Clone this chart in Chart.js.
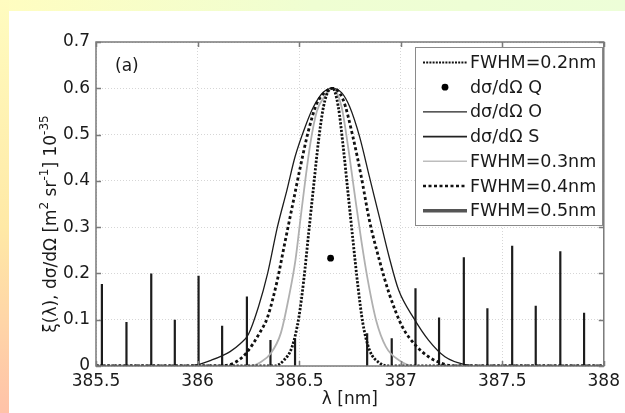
<!DOCTYPE html>
<html>
<head>
<meta charset="utf-8">
<script src="https://cdn.jsdelivr.net/npm/chart.js@4"></script>
<style>
  html, body { margin: 0; padding: 0; }
  body { width: 625px; height: 413px; position: relative; overflow: hidden; background: #fff; }
  #topStrip { position: absolute; left: 0; top: 0; width: 625px; height: 11px;
    background: linear-gradient(90deg, #fffdc0, #effed2 50%, #edfed8); }
  #leftStrip { position: absolute; left: 0; top: 0; width: 9px; height: 413px;
    background: linear-gradient(180deg, #fffcc0, #ffe9a6 55%, #ffc2a8); }
  #chart { position: absolute; left: 0; top: 0; }
</style>
</head>
<body>
<div id="topStrip"></div>
<div id="leftStrip"></div>
<canvas id="chart" width="625" height="413"></canvas>
<script>
// tick labels
const xTicks = [385.5, 386, 386.5, 387, 387.5, 388];
const yTicks = [0, 0.1, 0.2, 0.3, 0.4, 0.5, 0.6, 0.7];

// convolved spectra
const fwhm02Wl  = [385.5, 386.38, 386.426, 386.466, 386.499, 386.523, 386.547, 386.571, 386.596, 386.62, 386.65, 386.665, 386.693, 386.717, 386.741, 386.765, 386.79, 386.814, 386.846, 386.895, 386.94, 388];
const fwhm02Val = [0, 0, 0.013, 0.042, 0.106, 0.186, 0.287, 0.387, 0.488, 0.56, 0.598, 0.6, 0.56, 0.474, 0.373, 0.272, 0.171, 0.092, 0.035, 0.007, 0, 0];

const fwhm03Wl  = [385.5, 386.26, 386.31, 386.36, 386.41, 386.45, 386.482, 386.506, 386.53, 386.555, 386.587, 386.63, 386.665, 386.709, 386.741, 386.773, 386.806, 386.838, 386.879, 386.927, 386.99, 387.07, 388];
const fwhm03Val = [0, 0, 0.008, 0.027, 0.071, 0.15, 0.229, 0.315, 0.40, 0.48, 0.55, 0.585, 0.6, 0.56, 0.474, 0.373, 0.272, 0.186, 0.099, 0.042, 0.013, 0, 0];

const fwhm04Wl  = [385.5, 386.1, 386.16, 386.2, 386.24, 386.305, 386.345, 386.393, 386.426, 386.466, 386.506, 386.547, 386.587, 386.63, 386.665, 386.717, 386.765, 386.806, 386.846, 386.895, 386.943, 387.008, 387.073, 387.137, 387.2, 387.26, 388];
const fwhm04Val = [0, 0, 0.003, 0.012, 0.028, 0.071, 0.106, 0.186, 0.258, 0.344, 0.43, 0.51, 0.567, 0.592, 0.6, 0.575, 0.495, 0.409, 0.315, 0.229, 0.157, 0.085, 0.045, 0.02, 0.006, 0, 0];

const fwhm05Wl  = [385.5, 385.95, 386.0, 386.07, 386.12, 386.16, 386.21, 386.25, 386.3, 386.345, 386.393, 386.44, 386.48, 386.53, 386.571, 386.62, 386.665, 386.71, 386.749, 386.798, 386.846, 386.895, 386.943, 386.99, 387.065, 387.137, 387.218, 387.316, 387.4, 388];
const fwhm05Val = [0, 0, 0.003, 0.013, 0.022, 0.031, 0.048, 0.068, 0.128, 0.2, 0.3, 0.38, 0.452, 0.517, 0.56, 0.592, 0.6, 0.59, 0.56, 0.495, 0.409, 0.322, 0.236, 0.164, 0.103, 0.056, 0.02, 0.003, 0, 0];

// cross sections: Q branch point, O and S branch lines
const qWl = [386.655];
const qVal = [0.233];
const oWl  = [385.529, 385.65, 385.772, 385.888, 386.005, 386.121, 386.243, 386.359, 386.48];
const oVal = [0.177, 0.095, 0.2, 0.1, 0.195, 0.087, 0.15, 0.056, 0.06];
const sWl  = [386.835, 386.956, 387.073, 387.189, 387.311, 387.427, 387.549, 387.665, 387.786, 387.903];
const sVal = [0.071, 0.06, 0.168, 0.105, 0.235, 0.125, 0.26, 0.13, 0.248, 0.115];

const FONT = 'DejaVu Sans';
const INK = '#1a1a1a';

function pts(xs, ys) { return xs.map((x, i) => ({ x: x, y: ys[i] })); }
function sticks(xs, ys) {
  const out = [];
  xs.forEach((x, i) => { out.push({ x: x, y: 0 }, { x: x, y: ys[i] }, { x: x, y: null }); });
  return out;
}

const curve = (label, xs, ys, color, width, dash, order, legend) => ({
  label, data: pts(xs, ys), borderColor: color, borderWidth: width, borderDash: dash,
  pointRadius: 0, fill: false, cubicInterpolationMode: 'monotone', order, legend
});

const datasets = [
  curve('FWHM=0.2nm', fwhm02Wl, fwhm02Val, '#111', 2.8, [2.2, 1.6], 1,
        { kind: 'line', color: '#111', width: 2, dash: [2, 1.2] }),
  { label: 'dσ/dΩ Q', data: pts(qWl, qVal), showLine: false, pointRadius: 3.4,
    pointBackgroundColor: '#000', pointBorderWidth: 0, order: 0, legend: { kind: 'dot' } },
  { label: 'dσ/dΩ O', data: sticks(oWl, oVal), borderColor: '#1c1c1c', borderWidth: 2.2,
    pointRadius: 0, spanGaps: false, order: 10, legend: { kind: 'line', color: '#222', width: 1.3, dash: [] } },
  { label: 'dσ/dΩ S', data: sticks(sWl, sVal), borderColor: '#1c1c1c', borderWidth: 2.2,
    pointRadius: 0, spanGaps: false, order: 10, legend: { kind: 'line', color: '#222', width: 1.8, dash: [] } },
  curve('FWHM=0.3nm', fwhm03Wl, fwhm03Val, '#b0b0b0', 1.8, [], 3,
        { kind: 'line', color: '#bdbdbd', width: 1.5, dash: [] }),
  curve('FWHM=0.4nm', fwhm04Wl, fwhm04Val, '#111', 2.8, [3, 2.6], 2,
        { kind: 'line', color: '#111', width: 2.5, dash: [3, 2.5] }),
  curve('FWHM=0.5nm', fwhm05Wl, fwhm05Val, '#1c1c1c', 1.3, [], 4,
        { kind: 'line', color: '#555', width: 3.5, dash: [] })
];

// box, inner ticks, legend, y title and panel label
const decor = {
  id: 'decor',
  afterDraw(chart) {
    const ctx = chart.ctx;
    const a = chart.chartArea;
    const xs = chart.scales.x, ys = chart.scales.y;
    ctx.save();
    ctx.strokeStyle = '#7a7a7a';
    ctx.lineWidth = 1.5;
    ctx.strokeRect(a.left, a.top, a.right - a.left, a.bottom - a.top);
    ctx.beginPath();
    xTicks.forEach(v => {
      const p = Math.round(xs.getPixelForValue(v)) + 0.5;
      ctx.moveTo(p, a.bottom); ctx.lineTo(p, a.bottom - 5);
      ctx.moveTo(p, a.top); ctx.lineTo(p, a.top + 5);
    });
    yTicks.forEach(v => {
      const p = Math.round(ys.getPixelForValue(v)) + 0.5;
      ctx.moveTo(a.left, p); ctx.lineTo(a.left + 5, p);
      ctx.moveTo(a.right, p); ctx.lineTo(a.right - 5, p);
    });
    ctx.stroke();

    // legend
    const lx = 415, ly = 47, lw = 187, lh = 178;
    ctx.fillStyle = '#fff';
    ctx.fillRect(lx, ly, lw, lh);
    ctx.strokeStyle = '#8a8a8a';
    ctx.lineWidth = 1;
    ctx.strokeRect(lx + 0.5, ly + 0.5, lw, lh);
    ctx.font = '17.5px "' + FONT + '"';
    ctx.textBaseline = 'middle';
    chart.data.datasets.forEach((ds, i) => {
      const y = ly + 15.5 + i * 24.7;
      const st = ds.legend;
      if (st.kind === 'dot') {
        ctx.beginPath();
        ctx.arc(445, y, 3.4, 0, Math.PI * 2);
        ctx.fillStyle = '#000';
        ctx.fill();
      } else {
        ctx.beginPath();
        ctx.setLineDash(st.dash);
        ctx.strokeStyle = st.color;
        ctx.lineWidth = st.width;
        ctx.moveTo(423, y); ctx.lineTo(467, y);
        ctx.stroke();
        ctx.setLineDash([]);
      }
      ctx.fillStyle = INK;
      ctx.fillText(ds.label, 470, y + 1);
    });

    // panel label
    ctx.font = '17px "' + FONT + '"';
    ctx.fillText('(a)', 115, 67);

    // y axis title with superscripts
    const parts = [['ξ(λ), dσ/dΩ [m', 0], ['2', 1], [' sr', 0], ['-1', 1], ['] 10', 0], ['-35', 1]];
    const big = '17px "' + FONT + '"', small = '12px "' + FONT + '"';
    let total = 0;
    parts.forEach(p => { ctx.font = p[1] ? small : big; total += ctx.measureText(p[0]).width; });
    ctx.translate(56, 224);
    ctx.rotate(-Math.PI / 2);
    ctx.textBaseline = 'alphabetic';
    let cx = -total / 2;
    parts.forEach(p => {
      ctx.font = p[1] ? small : big;
      ctx.fillText(p[0], cx, p[1] ? -8 : 0);
      cx += ctx.measureText(p[0]).width;
    });
    ctx.restore();
  }
};

const tickFont = { family: FONT, size: 17 };

new Chart(document.getElementById('chart'), {
  type: 'line',
  data: { datasets },
  options: {
    responsive: false,
    animation: false,
    layout: { padding: { left: 0, top: 42, right: 15, bottom: 0 } },
    plugins: { legend: { display: false }, tooltip: { enabled: false } },
    scales: {
      x: {
        type: 'linear', min: 385.5, max: 388,
        afterBuildTicks: s => { s.ticks = xTicks.map(v => ({ value: v })); },
        afterFit: s => { s.height = 47; },
        ticks: { callback: v => String(v), font: tickFont, color: INK, padding: 5, maxRotation: 0, autoSkip: false },
        grid: { color: '#d6d6d6', drawTicks: false },
        border: { display: false, dash: [1, 2] },
        title: { display: true, text: 'λ [nm]', font: tickFont, color: INK, padding: { top: 0, bottom: 3 } }
      },
      y: {
        type: 'linear', min: 0, max: 0.7,
        afterBuildTicks: s => { s.ticks = yTicks.map(v => ({ value: v })); },
        afterFit: s => { s.width = 96; },
        ticks: { callback: v => String(v), font: tickFont, color: INK, padding: 6 },
        grid: { color: '#d6d6d6', drawTicks: false },
        border: { display: false, dash: [1, 2] }
      }
    }
  },
  plugins: [decor]
});
</script>
</body>
</html>
